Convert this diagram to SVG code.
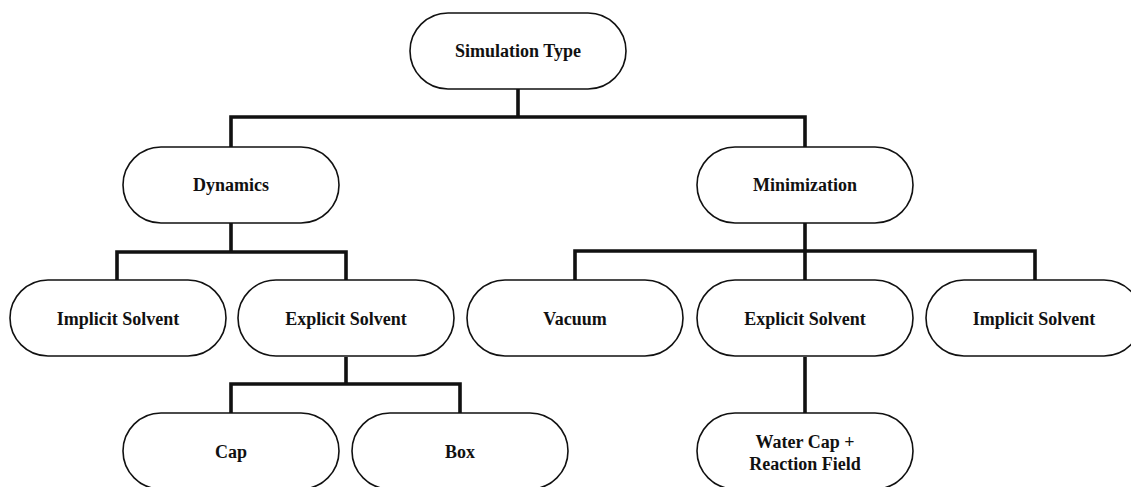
<svg xmlns="http://www.w3.org/2000/svg" width="1131" height="487" viewBox="0 0 1131 487">
<style>
.node rect{fill:#fff;stroke:#111;stroke-width:1.6}
.node text{font-family:"Liberation Serif","Times New Roman",serif;font-weight:bold;font-size:18px;fill:#111;text-anchor:middle}
.conn path{fill:none;stroke:#111;stroke-width:3.6;stroke-linejoin:miter;stroke-linecap:butt}
</style>
<rect width="1131" height="487" fill="#fff"/>
<g class="conn" id="connectors">
<path d="M518 89V117M231 147V117H805V147"/>
<path d="M231 223V252M117 280V252H346V280"/>
<path d="M805 223V251M575 280V251H1035V280M805 251V280"/>
<path d="M346 357V384M231 413V384H460V413"/>
<path d="M805 357V413"/>
</g>
<g class="node" id="simulation-type"><rect x="410" y="13" width="216" height="76" rx="38"/><text x="518" y="57">Simulation Type</text></g>
<g class="node" id="dynamics"><rect x="123" y="147" width="216" height="76" rx="38"/><text x="231" y="191">Dynamics</text></g>
<g class="node" id="minimization"><rect x="697" y="147" width="216" height="76" rx="38"/><text x="805" y="191">Minimization</text></g>
<g class="node" id="dyn-implicit"><rect x="10" y="280" width="216" height="76" rx="38"/><text x="118" y="325">Implicit Solvent</text></g>
<g class="node" id="dyn-explicit"><rect x="238" y="280" width="216" height="76" rx="38"/><text x="346" y="325">Explicit Solvent</text></g>
<g class="node" id="vacuum"><rect x="467" y="280" width="216" height="76" rx="38"/><text x="575" y="325">Vacuum</text></g>
<g class="node" id="min-explicit"><rect x="697" y="280" width="216" height="76" rx="38"/><text x="805" y="325">Explicit Solvent</text></g>
<g class="node" id="min-implicit"><rect x="926" y="280" width="216" height="76" rx="38"/><text x="1034" y="325">Implicit Solvent</text></g>
<g class="node" id="cap"><rect x="123" y="413" width="216" height="76" rx="38"/><text x="231" y="458">Cap</text></g>
<g class="node" id="box"><rect x="352" y="413" width="216" height="76" rx="38"/><text x="460" y="458">Box</text></g>
<g class="node" id="water-cap"><rect x="697" y="413" width="216" height="76" rx="38"/><text x="805" y="448">Water Cap +</text><text x="805" y="470">Reaction Field</text></g>
</svg>
